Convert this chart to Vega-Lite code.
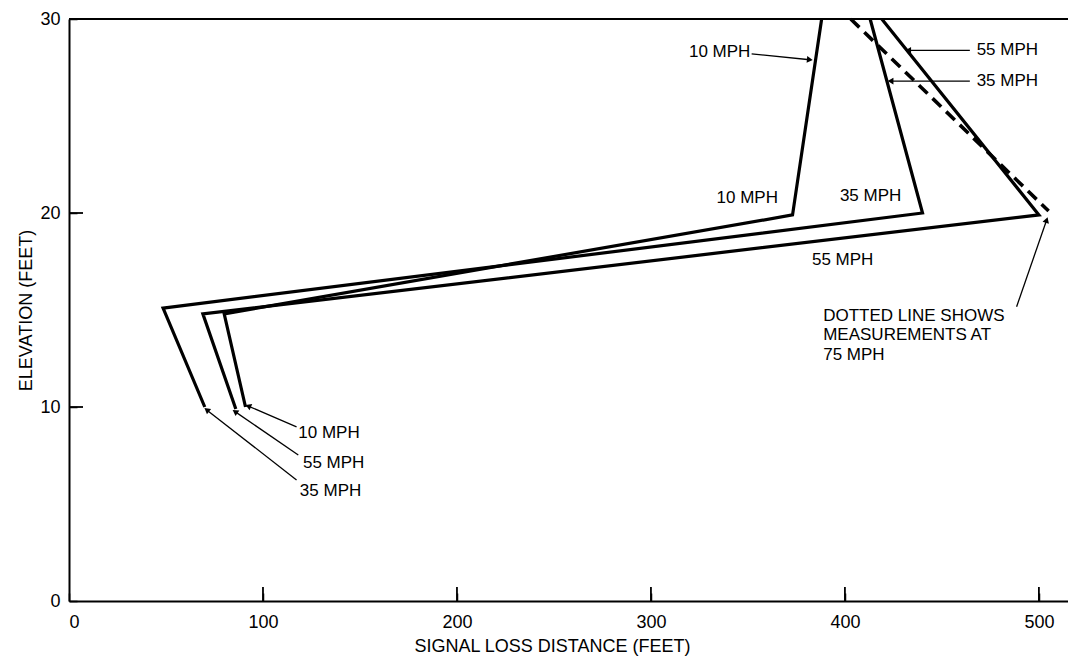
{
  "$schema": "https://vega.github.io/schema/vega-lite/v6.json",
  "width": 999,
  "height": 582,
  "autosize": "none",
  "padding": {"left": 69, "top": 19, "right": 0, "bottom": 59},
  "background": "white",
  "config": {
    "view": {"stroke": null},
    "font": "Liberation Sans",
    "axis": {
      "grid": false,
      "domainColor": "black",
      "domainWidth": 2,
      "tickColor": "black",
      "tickWidth": 1.5,
      "labelColor": "black",
      "labelFont": "Liberation Sans",
      "labelFontSize": 18,
      "titleColor": "black",
      "titleFont": "Liberation Sans",
      "titleFontSize": 18,
      "titleFontWeight": "normal"
    }
  },
  "datasets": {
    "curves": [
      {"speed": "10 MPH", "step": 1, "distance": 388, "elevation": 30},
      {"speed": "10 MPH", "step": 2, "distance": 373, "elevation": 19.9},
      {"speed": "10 MPH", "step": 3, "distance": 80, "elevation": 14.8},
      {"speed": "10 MPH", "step": 4, "distance": 91, "elevation": 10},
      {"speed": "35 MPH", "step": 1, "distance": 413, "elevation": 30},
      {"speed": "35 MPH", "step": 2, "distance": 440, "elevation": 20},
      {"speed": "35 MPH", "step": 3, "distance": 48.5, "elevation": 15.1},
      {"speed": "35 MPH", "step": 4, "distance": 70, "elevation": 10},
      {"speed": "55 MPH", "step": 1, "distance": 419, "elevation": 30},
      {"speed": "55 MPH", "step": 2, "distance": 500, "elevation": 19.9},
      {"speed": "55 MPH", "step": 3, "distance": 69, "elevation": 14.8},
      {"speed": "55 MPH", "step": 4, "distance": 86, "elevation": 9.9}
    ],
    "dotted": [
      {"speed": "75 MPH", "step": 1, "distance": 403, "elevation": 30},
      {"speed": "75 MPH", "step": 2, "distance": 505, "elevation": 20.1}
    ],
    "frame": [
      {"x": 0, "x2": 515, "y": 30}
    ],
    "xticks": [
      {"value": 100, "base": 0},
      {"value": 200, "base": 0},
      {"value": 300, "base": 0},
      {"value": 400, "base": 0},
      {"value": 500, "base": 0}
    ],
    "yticks": [
      {"value": 10, "base": 0},
      {"value": 20, "base": 0}
    ],
    "leaders": [
      {"x1": 351.9, "y1": 28.2, "x2": 381.9, "y2": 27.9},
      {"x1": 464.4, "y1": 28.38, "x2": 432.6, "y2": 28.38},
      {"x1": 464.4, "y1": 26.8, "x2": 423.5, "y2": 26.8},
      {"x1": 488.5, "y1": 15.17, "x2": 504, "y2": 19.64},
      {"x1": 117.3, "y1": 8.98, "x2": 92.4, "y2": 10.05},
      {"x1": 118.2, "y1": 7.53, "x2": 85.6, "y2": 9.76},
      {"x1": 117.3, "y1": 6.24, "x2": 71, "y2": 9.85}
    ],
    "labels": [
      {"text": "10 MPH", "x": 319.6, "y": 28.3},
      {"text": "55 MPH", "x": 467.9, "y": 28.4},
      {"text": "35 MPH", "x": 467.9, "y": 26.8},
      {"text": "10 MPH", "x": 333.8, "y": 20.76},
      {"text": "35 MPH", "x": 397.4, "y": 20.9},
      {"text": "55 MPH", "x": 383, "y": 17.6},
      {"text": "DOTTED LINE SHOWS", "x": 388.8, "y": 14.7},
      {"text": "MEASUREMENTS AT", "x": 388.8, "y": 13.7},
      {"text": "75 MPH", "x": 388.8, "y": 12.7},
      {"text": "10 MPH", "x": 118.2, "y": 8.64},
      {"text": "55 MPH", "x": 120.6, "y": 7.13},
      {"text": "35 MPH", "x": 119, "y": 5.69}
    ]
  },
  "layer": [
    {
      "data": {"name": "frame"},
      "mark": {"type": "rule", "color": "black", "strokeWidth": 2},
      "encoding": {
        "x": {"field": "x", "type": "quantitative", "scale": {"domain": [0, 515], "nice": false, "zero": false},
          "axis": {"values": [0, 100, 200, 300, 400, 500], "title": "SIGNAL LOSS DISTANCE (FEET)", "tickSize": -8, "labelPadding": 20, "titlePadding": 6, "titleX": 483}},
        "x2": {"field": "x2"},
        "y": {"field": "y", "type": "quantitative", "scale": {"domain": [0, 30], "nice": false, "zero": false},
          "axis": {"values": [0, 10, 20, 30], "title": "ELEVATION (FEET)", "tickSize": -8, "labelPadding": 17, "titlePadding": 4}}
      }
    },
    {
      "data": {"name": "xticks"},
      "mark": {"type": "tick", "orient": "vertical", "color": "black", "size": 14, "thickness": 1.8, "yOffset": -7, "opacity": 1},
      "encoding": {
        "x": {"field": "value", "type": "quantitative"},
        "y": {"field": "base", "type": "quantitative"}
      }
    },
    {
      "data": {"name": "yticks"},
      "mark": {"type": "tick", "orient": "horizontal", "color": "black", "size": 14, "thickness": 1.8, "xOffset": 7, "opacity": 1},
      "encoding": {
        "x": {"field": "base", "type": "quantitative"},
        "y": {"field": "value", "type": "quantitative"}
      }
    },
    {
      "data": {"name": "curves"},
      "mark": {"type": "line", "color": "black", "strokeWidth": 3.2, "strokeJoin": "miter"},
      "encoding": {
        "x": {"field": "distance", "type": "quantitative"},
        "y": {"field": "elevation", "type": "quantitative"},
        "detail": {"field": "speed"},
        "order": {"field": "step", "type": "quantitative"}
      }
    },
    {
      "data": {"name": "dotted"},
      "mark": {"type": "line", "color": "black", "strokeWidth": 3.6, "strokeDash": [12, 7]},
      "encoding": {
        "x": {"field": "distance", "type": "quantitative"},
        "y": {"field": "elevation", "type": "quantitative"},
        "order": {"field": "step", "type": "quantitative"}
      }
    },
    {
      "data": {"name": "leaders"},
      "mark": {"type": "rule", "color": "black", "strokeWidth": 1.3},
      "encoding": {
        "x": {"field": "x1", "type": "quantitative"},
        "y": {"field": "y1", "type": "quantitative"},
        "x2": {"field": "x2"},
        "y2": {"field": "y2"}
      }
    },
    {
      "data": {"name": "leaders"},
      "transform": [
        {"calculate": "atan2((datum.x2 - datum.x1) * 1.94, (datum.y2 - datum.y1) * 19.4) * 180 / PI", "as": "heading"}
      ],
      "mark": {"type": "point", "shape": "triangle-up", "filled": true, "color": "black", "size": 45, "opacity": 1},
      "encoding": {
        "x": {"field": "x2", "type": "quantitative"},
        "y": {"field": "y2", "type": "quantitative"},
        "angle": {"field": "heading", "type": "quantitative", "scale": null}
      }
    },
    {
      "data": {"name": "labels"},
      "mark": {"type": "text", "align": "left", "baseline": "middle", "font": "Liberation Sans", "fontSize": 17, "color": "black"},
      "encoding": {
        "x": {"field": "x", "type": "quantitative"},
        "y": {"field": "y", "type": "quantitative"},
        "text": {"field": "text"}
      }
    }
  ]
}
